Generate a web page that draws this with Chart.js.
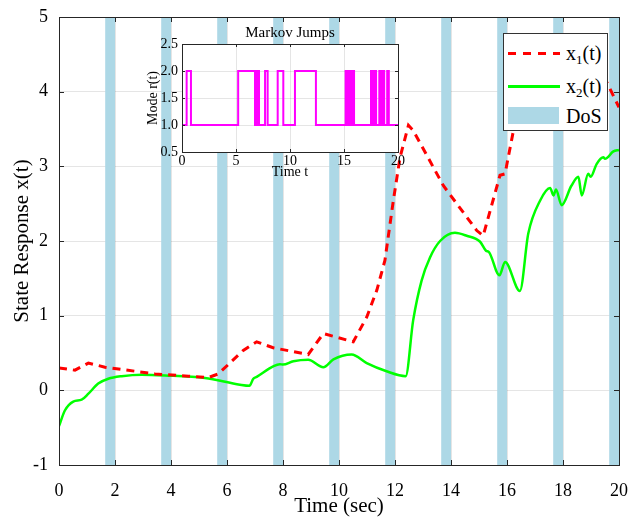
<!DOCTYPE html>
<html>
<head>
<meta charset="utf-8">
<script src="https://cdn.jsdelivr.net/npm/chart.js@4.4.0/dist/chart.umd.min.js"></script>
<style>
html,body{margin:0;padding:0;background:#fff;}
#wrap{position:relative;width:629px;height:517px;overflow:hidden;}
#main{position:absolute;left:0;top:0;}
#inset{position:absolute;left:130px;top:15px;}
#legend{position:absolute;left:503px;top:33px;width:103px;height:96px;border:1px solid #333;background:#fff;
  font-family:"Liberation Serif","Times New Roman",serif;font-size:20px;color:#000;}
.lg-txt{position:absolute;left:62px;height:24px;line-height:24px;white-space:nowrap;}
.lg-txt sub{font-size:13px;vertical-align:-4px;line-height:0;}
#lg-red{position:absolute;left:4px;top:18px;width:52px;height:3px;
  background:repeating-linear-gradient(to right,#ff0000 0,#ff0000 8px,transparent 8px,transparent 15px);}
#lg-green{position:absolute;left:4px;top:51px;width:52px;height:3px;background:#00ff00;}
#lg-dos{position:absolute;left:4px;top:73px;width:51px;height:17px;background:#add8e6;}
</style>
</head>
<body>
<div id="wrap">
  <canvas id="main" width="629" height="517"></canvas>
  <canvas id="inset" width="280" height="170"></canvas>
  <div id="legend">
    <div id="lg-red"></div><div class="lg-txt" style="top:7px;">x<sub>1</sub>(t)</div>
    <div id="lg-green"></div><div class="lg-txt" style="top:40px;">x<sub>2</sub>(t)</div>
    <div id="lg-dos"></div><div class="lg-txt" style="top:70px;">DoS</div>
  </div>
</div>
<script>
// ---- data ----
const x1Time   = [0, 0.57, 1.05, 1.64, 2.24, 3.43, 4.62, 5.33, 5.69, 6.58, 7.06, 7.65, 8.9, 9.44, 10.51, 10.99, 11.35, 11.64, 11.94, 12.18, 12.48, 12.65, 13.73, 14.92, 15.15, 15.75, 15.93, 16.23, 16.6, 17.2, 17.8, 18.5, 19.1, 19.56, 20];
const x1Values = [0.30, 0.27, 0.365, 0.31, 0.28, 0.22, 0.19, 0.17, 0.22, 0.535, 0.65, 0.57, 0.48, 0.76, 0.65, 0.98, 1.34, 1.74, 2.54, 3.12, 3.55, 3.48, 2.74, 2.14, 2.07, 2.88, 2.90, 3.48, 4.0, 4.45, 4.3, 4.5, 4.35, 4.13, 3.79];

const x2Time   = [0, 0.21, 0.51, 0.81, 1.05, 1.4, 1.76, 2.24, 2.95, 3.79, 5.21, 6.46, 6.8, 6.94, 7.06, 7.65, 7.89, 8.0, 8.37, 8.9, 9.44, 9.8, 10.45, 10.99, 11.7, 12.38, 12.65, 12.95, 13.25, 13.61, 14.14, 14.56, 15.04, 15.25, 15.36, 15.73, 15.93, 16.46, 16.76, 17.18, 17.54, 17.66, 17.75, 17.95, 18.3, 18.55, 18.67, 18.9, 18.99, 19.2, 19.44, 19.5, 19.8, 20];
const x2Values = [-0.48, -0.27, -0.15, -0.125, -0.045, 0.09, 0.155, 0.19, 0.21, 0.20, 0.165, 0.075, 0.06, 0.155, 0.18, 0.32, 0.35, 0.345, 0.39, 0.41, 0.31, 0.415, 0.48, 0.365, 0.255, 0.19, 0.94, 1.47, 1.78, 2.0, 2.11, 2.07, 1.99, 1.87, 1.85, 1.54, 1.72, 1.33, 2.10, 2.54, 2.71, 2.61, 2.69, 2.48, 2.74, 2.86, 2.61, 2.90, 2.86, 3.03, 3.12, 3.10, 3.20, 3.22];

const dosStart = [1.65, 3.65, 5.65, 7.65, 9.65, 11.65, 13.65, 15.65, 17.65, 19.65];
const dosEnd   = [2.0, 4.0, 6.0, 8.0, 10.0, 12.0, 14.0, 16.0, 18.0, 20.0];

const modeTime   = [0, 0.43, 0.83, 5.2, 6.76, 6.86, 6.96, 7.05, 7.13, 7.69, 7.93, 8.86, 9.38, 10.46, 12.4, 15.15, 15.25, 15.33, 15.45, 15.55, 15.68, 15.78, 15.93, 17.5, 17.6, 17.68, 17.82, 17.9, 17.97, 18.27, 18.42, 18.57, 18.72, 19.0, 19.15, 20];
const modeValues = [1, 2, 1, 2, 1, 2, 1, 2, 1, 2, 1, 2, 1, 2, 1, 2, 1, 2, 1, 2, 1, 2, 1, 2, 1, 2, 1, 2, 1, 2, 1, 2, 1, 2, 1, 1];

const mainXTicks = [0, 2, 4, 6, 8, 10, 12, 14, 16, 18, 20];
const mainYTicks = [-1, 0, 1, 2, 3, 4, 5];
const insetXTicks = [0, 5, 10, 15, 20];
const insetYTicks = [0.5, 1, 1.5, 2, 2.5];

// ---- chart ----
const FONT = "'Liberation Serif','Times New Roman',serif";
const pts = (xs, ys) => xs.map((x, i) => ({x: x, y: ys[i]}));
const noPad = s => { s.paddingLeft = 0; s.paddingRight = 0; s.paddingTop = 0; s.paddingBottom = 0; };

const dosPlugin = {
  id: 'dos',
  beforeDatasetsDraw(chart) {
    const {ctx, chartArea: a, scales: {x}} = chart;
    ctx.save();
    ctx.fillStyle = '#add8e6';
    for (let i = 0; i < dosStart.length; i++) {
      const p0 = x.getPixelForValue(dosStart[i]);
      const p1 = x.getPixelForValue(dosEnd[i]);
      ctx.fillRect(p0, a.top, p1 - p0, a.bottom - a.top);
    }
    ctx.restore();
  }
};

function boxPlugin(len) {
  return {
    id: 'box' + len,
    afterDraw(chart) {
      const {ctx, chartArea: a, scales: {x, y}} = chart;
      ctx.save();
      ctx.strokeStyle = '#262626';
      ctx.lineWidth = 1;
      ctx.beginPath();
      ctx.rect(Math.round(a.left) + 0.5, Math.round(a.top) + 0.5, Math.round(a.right - a.left), Math.round(a.bottom - a.top));
      x.ticks.forEach(t => {
        const p = Math.round(x.getPixelForValue(t.value)) + 0.5;
        ctx.moveTo(p, a.bottom); ctx.lineTo(p, a.bottom - len);
        ctx.moveTo(p, a.top); ctx.lineTo(p, a.top + len);
      });
      y.ticks.forEach(t => {
        const p = Math.round(y.getPixelForValue(t.value)) + 0.5;
        ctx.moveTo(a.left, p); ctx.lineTo(a.left + len, p);
        ctx.moveTo(a.right, p); ctx.lineTo(a.right - len, p);
      });
      ctx.stroke();
      ctx.restore();
    }
  };
}

const whiteBg = {
  id: 'whiteBg',
  beforeDraw(chart) {
    const {ctx, chartArea: a} = chart;
    ctx.save();
    ctx.fillStyle = '#fff';
    ctx.fillRect(a.left, a.top, a.right - a.left, a.bottom - a.top);
    ctx.restore();
  }
};

new Chart(document.getElementById('main'), {
  type: 'line',
  data: {
    datasets: [
      {label: 'x1(t)', data: pts(x1Time, x1Values), borderColor: '#ff0000', borderWidth: 3, borderDash: [8, 6], pointRadius: 0, fill: false, tension: 0},
      {label: 'x2(t)', data: pts(x2Time, x2Values), borderColor: '#00ff00', borderWidth: 2.5, pointRadius: 0, fill: false, cubicInterpolationMode: 'monotone'}
    ]
  },
  options: {
    responsive: false, animation: false, events: [],
    layout: {padding: {left: 0, right: 10, top: 17, bottom: 0}},
    plugins: {legend: {display: false}, tooltip: {enabled: false}},
    scales: {
      x: {
        type: 'linear', min: 0, max: 20,
        afterBuildTicks: s => { s.ticks = mainXTicks.map(v => ({value: v})); },
        ticks: {font: {family: FONT, size: 18}, color: '#000', padding: 15, maxRotation: 0, autoSkip: false},
        grid: {color: 'rgba(0,0,0,0.1)', drawTicks: false},
        border: {color: '#262626'},
        title: {display: true, text: 'Time (sec)', color: '#000', font: {family: FONT, size: 21, lineHeight: 1}, padding: {top: 0, bottom: 0}},
        afterFit: s => { s.height = 52; noPad(s); }
      },
      y: {
        type: 'linear', min: -1, max: 5,
        afterBuildTicks: s => { s.ticks = mainYTicks.map(v => ({value: v})); },
        ticks: {font: {family: FONT, size: 18}, color: '#000', padding: 11, autoSkip: false},
        grid: {color: 'rgba(0,0,0,0.1)', drawTicks: false},
        border: {color: '#262626'},
        title: {display: true, text: 'State Response x(t)', color: '#000', font: {family: FONT, size: 21, lineHeight: 1}, padding: {top: 11.5, bottom: 0}},
        afterFit: s => { s.width = 59; noPad(s); }
      }
    }
  },
  plugins: [dosPlugin, boxPlugin(5)]
});

new Chart(document.getElementById('inset'), {
  type: 'line',
  data: {
    datasets: [
      {label: 'r(t)', data: pts(modeTime, modeValues), borderColor: '#ff00ff', borderWidth: 2, pointRadius: 0, fill: false, stepped: true}
    ]
  },
  options: {
    responsive: false, animation: false, events: [],
    layout: {padding: {left: 0, right: 12, top: 0, bottom: 0}},
    plugins: {
      legend: {display: false}, tooltip: {enabled: false},
      title: {display: true, fullSize: false, text: 'Markov Jumps', color: '#000', font: {family: FONT, size: 15, lineHeight: 1, weight: 'normal'}, padding: {top: 10.5, bottom: 3.5}}
    },
    scales: {
      x: {
        type: 'linear', min: 0, max: 20,
        afterBuildTicks: s => { s.ticks = insetXTicks.map(v => ({value: v})); },
        ticks: {font: {family: FONT, size: 14}, color: '#000', padding: 1, maxRotation: 0, autoSkip: false},
        grid: {color: 'rgba(0,0,0,0.1)', drawTicks: false},
        border: {color: '#262626'},
        title: {display: true, text: 'Time t', color: '#000', font: {family: FONT, size: 14, lineHeight: 1}, padding: {top: 0, bottom: 6}},
        afterFit: s => { s.height = 33; noPad(s); }
      },
      y: {
        type: 'linear', min: 0.5, max: 2.5,
        afterBuildTicks: s => { s.ticks = insetYTicks.map(v => ({value: v})); },
        ticks: {font: {family: FONT, size: 14}, color: '#000', padding: 4, autoSkip: false},
        grid: {color: 'rgba(0,0,0,0.1)', drawTicks: false},
        border: {color: '#262626'},
        title: {display: true, text: 'Mode r(t)', color: '#000', font: {family: FONT, size: 14, lineHeight: 1}, padding: {top: 16, bottom: 0}},
        afterFit: s => { s.width = 52; noPad(s); }
      }
    }
  },
  plugins: [whiteBg, boxPlugin(3)]
});
</script>
</body>
</html>
